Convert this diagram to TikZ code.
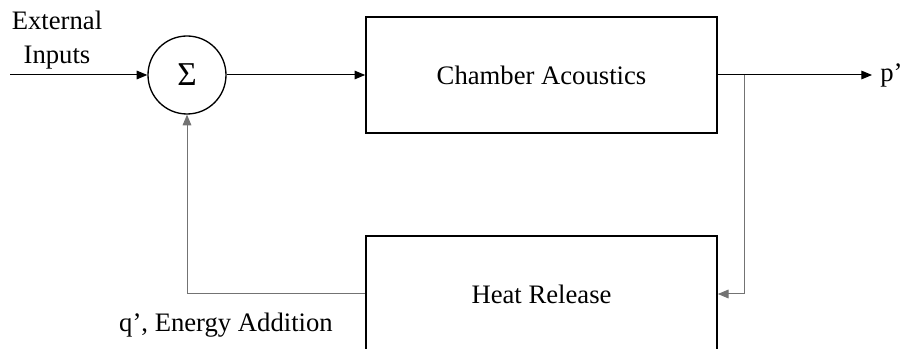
\documentclass[tikz,border=0pt]{standalone}
\usepackage{fontspec}
\setmainfont{Liberation Serif}
\usetikzlibrary{arrows.meta}

\begin{document}
\begin{tikzpicture}[
    x=0.75pt, y=0.75pt,
    >={Triangle[length=8pt, width=6.5pt]},
    font=\fontsize{20}{24}\selectfont,
    block/.style={draw, line width=1.5pt, minimum width=263pt, minimum height=87pt},
    summer/.style={draw, circle, line width=1pt, minimum size=58.5pt, inner sep=0pt,
        font=\fontsize{25}{25}\selectfont},
    signal/.style={->, line width=0.75pt},
    feedback/.style={->, line width=0.75pt, draw=black!55}
]
\useasboundingbox (0, 0) rectangle (906, 349);
\clip (0, 0) rectangle (906, 349);

% Summing junction and the two blocks
\node[summer] (sum) at (187, 274) {Σ};
\node[block] (chamber) at (541.5, 274) {Chamber Acoustics};
\node[block] (heat) at (541.5, 55) {Heat Release};

% External inputs
\coordinate (in) at (10, 274);
\node[align=center] (inlabel) at (57, 309) {External\\[2pt]Inputs};
\draw[signal] (in) -- (sum);

% Forward path
\draw[signal] (sum) -- (chamber);
\coordinate (out) at (872, 274);
\node[anchor=west, inner sep=6pt] (p) at (out) {p’};
\draw[signal] (chamber) -- (out);

% Pick-off point feeding the heat release block
\coordinate (tap) at (744, 274);
\draw[feedback] (tap) |- (heat.east);

% Energy addition back into the junction
\draw[feedback] (heat.west) -| (sum.south);
\node (qlabel) at (226, 24) {q’, Energy Addition};

\end{tikzpicture}
\end{document}
